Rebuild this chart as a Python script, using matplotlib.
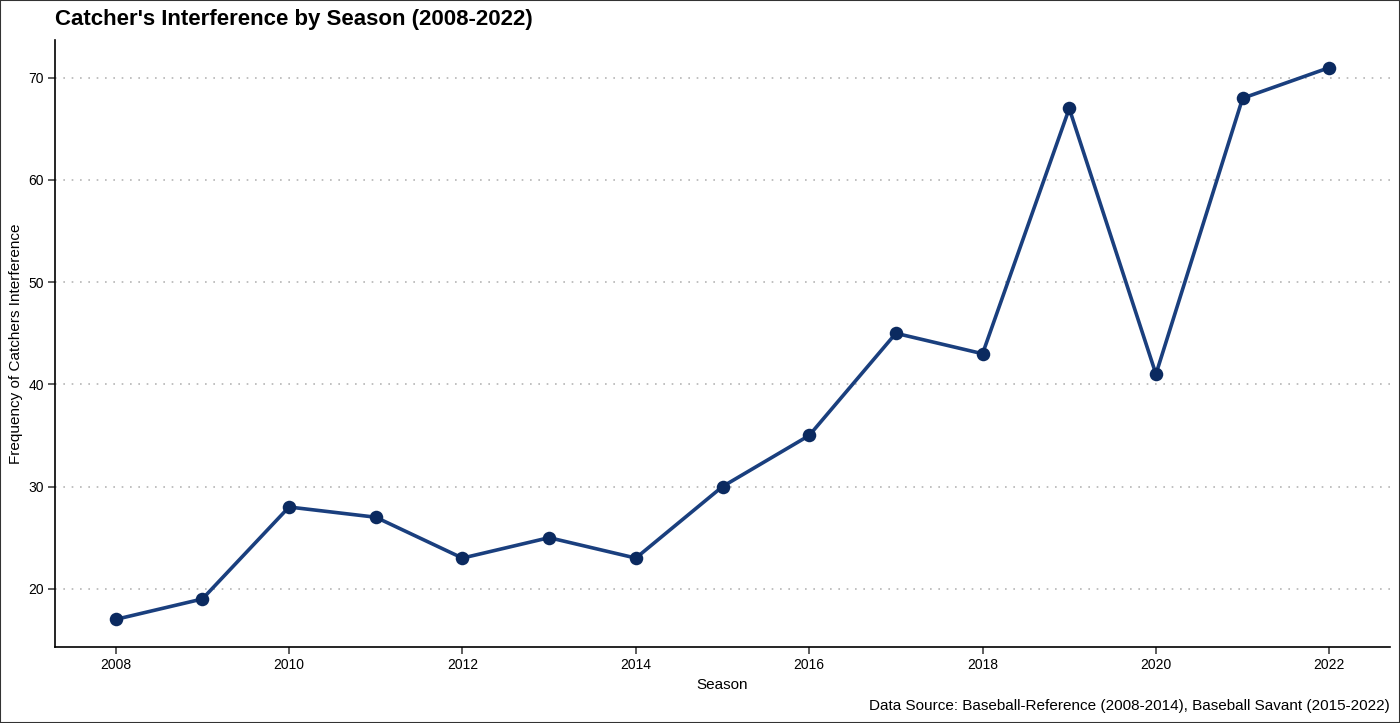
import matplotlib
matplotlib.use("Agg")
import matplotlib.pyplot as plt
from matplotlib.patches import Rectangle

seasons = [2008, 2009, 2010, 2011, 2012, 2013, 2014, 2015, 2016, 2017, 2018, 2019, 2020, 2021, 2022]
counts = [17, 19, 28, 27, 23, 25, 23, 30, 35, 45, 43, 67, 41, 68, 71]
x_ticks = [2008, 2010, 2012, 2014, 2016, 2018, 2020, 2022]
y_ticks = [20, 30, 40, 50, 60, 70]

title = "Catcher's Interference by Season (2008-2022)"
xlabel = "Season"
ylabel = "Frequency of Catchers Interference"
caption = "Data Source: Baseball-Reference (2008-2014), Baseball Savant (2015-2022)"

plt.rcParams['font.family'] = ['Liberation Sans', 'DejaVu Sans']

W, H = 1400, 723
fig = plt.figure(figsize=(W / 100, H / 100), dpi=100)
ax = fig.add_axes([55 / W, 1 - 647 / H, (1390 - 55) / W, (647 - 40) / H])

ax.plot(seasons, counts, color='#1A3F7E', lw=2.6, zorder=3, solid_capstyle='round')
ax.scatter(seasons, counts, s=95, color='#0B2A60', zorder=4, linewidths=0)

span = max(counts) - min(counts)
ax.set_ylim(min(counts) - 0.05 * span, max(counts) + 0.05 * span)
xs = max(seasons) - min(seasons)
ax.set_xlim(min(seasons) - 0.05 * xs, max(seasons) + 0.05 * xs)
ax.set_xticks(x_ticks)
ax.set_yticks(y_ticks)
ax.yaxis.grid(True, linestyle=(0, (1, 4)), color='#b5b5b5', lw=1.2)
ax.set_axisbelow(True)

for s in ['top', 'right']:
    ax.spines[s].set_visible(False)
for s in ['left', 'bottom']:
    ax.spines[s].set_linewidth(1.2)
    ax.spines[s].set_color('black')
ax.tick_params(axis='both', length=5, width=1.1, color='#333333', labelsize=10, labelcolor='black', pad=3)

ax.set_xlabel(xlabel, fontsize=11, labelpad=4)
ax.set_ylabel(ylabel, fontsize=11, labelpad=4)

fig.text(55 / W, 1 - 19 / H, title, fontsize=16, fontweight='bold', ha='left', va='center')
fig.text(1390 / W, 1 - 706 / H, caption, fontsize=11, ha='right', va='center')

fig.patches.append(Rectangle((0, 0), 1, 1, transform=fig.transFigure, fill=False,
                             edgecolor='#333333', lw=1.5))

fig.savefig("out.png", dpi=100)
